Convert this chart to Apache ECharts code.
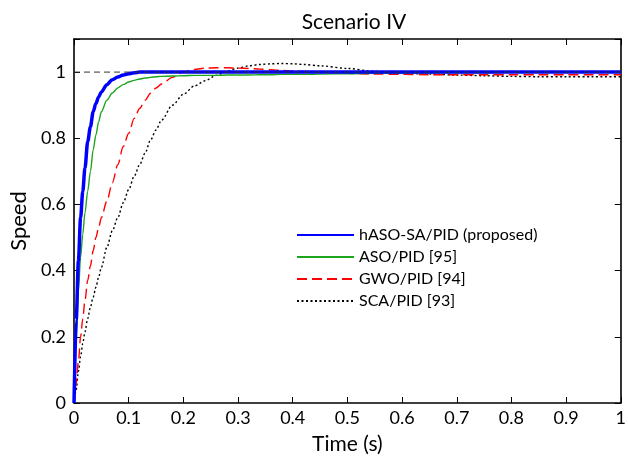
<!DOCTYPE html>
<html>
<head>
<meta charset="utf-8">
<script src="https://cdn.jsdelivr.net/npm/echarts@6/dist/echarts.min.js"></script>
<style>html,body{margin:0;padding:0;background:#fff}#chart{width:629px;height:460px}</style>
</head>
<body>
<div id="chart"></div>
<script>
var timeS = [0, 0.004, 0.008, 0.012, 0.016, 0.02, 0.025, 0.03, 0.035, 0.04, 0.045, 0.05, 0.06, 0.07, 0.08, 0.09, 0.1, 0.11, 0.12, 0.13, 0.14, 0.15, 0.16, 0.18, 0.2, 0.22, 0.24, 0.26, 0.28, 0.3, 0.32, 0.34, 0.36, 0.38, 0.4, 0.42, 0.45, 0.5, 0.55, 0.6, 0.65, 0.7, 0.75, 0.8, 0.85, 0.9, 0.95, 1];
var hasoSa = [0, 0.25, 0.43, 0.56, 0.64, 0.71, 0.79, 0.835, 0.88, 0.905, 0.925, 0.94, 0.962, 0.977, 0.985, 0.991, 0.995, 0.998, 1, 1, 1, 1, 1, 1, 1, 1, 1, 1, 1, 1, 1, 1, 1, 1, 1, 1, 1, 1, 1, 1, 1, 1, 1, 1, 1, 1, 1, 1];
var aso = [0, 0.2, 0.34, 0.44, 0.51, 0.575, 0.64, 0.7, 0.765, 0.81, 0.85, 0.88, 0.915, 0.937, 0.952, 0.962, 0.97, 0.975, 0.979, 0.982, 0.984, 0.986, 0.987, 0.988, 0.989, 0.99, 0.99, 0.99, 0.991, 0.991, 0.991, 0.992, 0.992, 0.993, 0.993, 0.993, 0.994, 0.995, 0.996, 0.997, 0.997, 0.998, 0.998, 0.999, 0.999, 0.999, 0.999, 0.999];
var gwo = [0, 0.06, 0.125, 0.2, 0.255, 0.31, 0.37, 0.415, 0.46, 0.5, 0.53, 0.56, 0.61, 0.665, 0.72, 0.775, 0.815, 0.86, 0.89, 0.915, 0.936, 0.952, 0.964, 0.984, 1.0, 1.008, 1.012, 1.013, 1.013, 1.012, 1.011, 1.009, 1.007, 1.005, 1.003, 1.002, 1.0, 0.996, 0.994, 0.993, 0.992, 0.992, 0.992, 0.992, 0.992, 0.992, 0.992, 0.992];
var sca = [0, 0.04, 0.095, 0.14, 0.18, 0.215, 0.255, 0.29, 0.32, 0.35, 0.38, 0.41, 0.47, 0.52, 0.56, 0.605, 0.645, 0.685, 0.72, 0.755, 0.795, 0.825, 0.855, 0.9, 0.933, 0.958, 0.974, 0.99, 1.003, 1.012, 1.019, 1.023, 1.025, 1.026, 1.025, 1.023, 1.019, 1.011, 1.002, 0.997, 0.994, 0.991, 0.989, 0.987, 0.986, 0.986, 0.986, 0.986];
var refLine = [[0, 1], [1, 1]];
var seriesNames = ['hASO-SA/PID (proposed)', 'ASO/PID [95]', 'GWO/PID [94]', 'SCA/PID [93]'];
var xTicks = [0, 0.1, 0.2, 0.3, 0.4, 0.5, 0.6, 0.7, 0.8, 0.9, 1];
var yTicks = [0, 0.2, 0.4, 0.6, 0.8, 1];

function pairs(vals) { return timeS.map(function (t, i) { return [t, vals[i]]; }); }

var FONT = 'Lato';
var chart = echarts.init(document.getElementById('chart'), null, { renderer: 'canvas' });
var axisLine = { show: true, onZero: false, lineStyle: { color: '#000', width: 1.6 } };
var tickIn = { show: true, inside: true, length: 6, lineStyle: { color: '#000', width: 1 } };
chart.setOption({
  animation: false,
  backgroundColor: '#fff',
  title: { text: 'Scenario IV', left: 349, top: 7, textAlign: 'center',
    textStyle: { fontFamily: FONT, fontSize: 21, fontWeight: 'normal', color: '#000' } },
  grid: { left: 71, right: 5, top: 39, bottom: 56, containLabel: false },
  legend: {
    orient: 'vertical', left: 291, top: 222, itemWidth: 57, itemHeight: 14, itemGap: 6,
    itemStyle: { opacity: 0 },
    textStyle: { fontFamily: FONT, fontSize: 16, color: '#000' },
    data: seriesNames
  },
  xAxis: [{
    type: 'value', min: 0, max: 1, interval: 0.1,
    name: 'Time (s)', nameLocation: 'middle', nameGap: 31,
    nameTextStyle: { fontFamily: FONT, fontSize: 21, color: '#000' },
    axisLine: axisLine, axisTick: tickIn, splitLine: { show: false },
    axisLabel: { fontFamily: FONT, fontSize: 18, color: '#000', margin: 6,
      formatter: function (v) { var r = Math.round(v * 10) / 10; return xTicks.indexOf(r) >= 0 ? String(r) : ''; } }
  }, {
    type: 'value', min: 0, max: 1, interval: 0.1, position: 'top',
    axisLine: axisLine, axisTick: tickIn, axisLabel: { show: false }, splitLine: { show: false }
  }],
  yAxis: [{
    type: 'value', min: 0, max: 1.1, interval: 0.2,
    name: 'Speed', nameLocation: 'middle', nameGap: 43,
    nameTextStyle: { fontFamily: FONT, fontSize: 22, color: '#000' },
    axisLine: axisLine, axisTick: tickIn, splitLine: { show: false },
    axisLabel: { fontFamily: FONT, fontSize: 18, color: '#000', margin: 8,
      formatter: function (v) { var r = Math.round(v * 10) / 10; return yTicks.indexOf(r) >= 0 ? String(r) : ''; } }
  }, {
    type: 'value', min: 0, max: 1.1, interval: 0.2, position: 'right',
    axisLine: axisLine, axisTick: tickIn, axisLabel: { show: false }, splitLine: { show: false }
  }],
  series: [
    { name: 'ref', type: 'line', data: refLine, symbol: 'none', silent: true,
      lineStyle: { color: '#333', width: 1, type: [6, 4] }, z: 5 },
    { name: seriesNames[3], type: 'line', data: pairs(sca), symbol: 'none', smooth: 0.3, smoothMonotone: 'x',
      lineStyle: { color: '#000', width: 1.4, type: [2, 2.5] }, itemStyle: { color: '#000' }, z: 2 },
    { name: seriesNames[2], type: 'line', data: pairs(gwo), symbol: 'none', smooth: 0.3, smoothMonotone: 'x',
      lineStyle: { color: '#ff0000', width: 1.4, type: [10, 5] }, itemStyle: { color: '#ff0000' }, z: 3 },
    { name: seriesNames[1], type: 'line', data: pairs(aso), symbol: 'none', smooth: 0.3, smoothMonotone: 'x',
      lineStyle: { color: '#1ea51e', width: 1.4 }, itemStyle: { color: '#1ea51e' }, z: 3 },
    { name: seriesNames[0], type: 'line', data: pairs(hasoSa), symbol: 'none', smooth: 0.3, smoothMonotone: 'x',
      lineStyle: { color: '#0000ff', width: 3.5 }, itemStyle: { color: '#0000ff' }, z: 4 }
  ]
});
</script>
</body>
</html>
